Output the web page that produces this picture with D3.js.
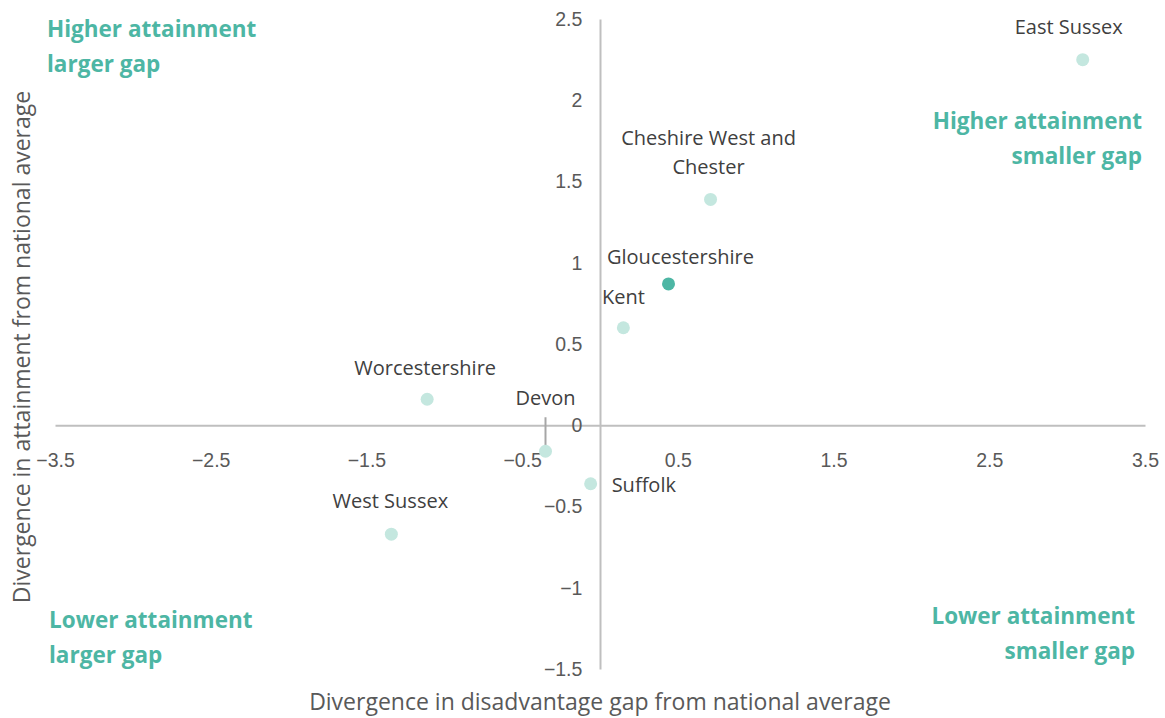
<!DOCTYPE html>
<html>
<head>
<meta charset="utf-8">
<script src="https://cdn.jsdelivr.net/npm/d3@7/dist/d3.min.js"></script>
<style>
  html, body { margin: 0; padding: 0; background: #fff; }
  svg { display: block; font-family: "Open Sans", Lato, sans-serif; }
</style>
</head>
<body>
<svg id="chart" width="1165" height="718"></svg>
<script>
// Local authorities and their divergence from national averages
const authorities = ["East Sussex", "Cheshire West and Chester", "Gloucestershire", "Kent",
                     "Worcestershire", "Devon", "Suffolk", "West Sussex"];
const gapDivergence = [3.10, 0.71, 0.44, 0.15, -1.11, -0.35, -0.06, -1.34];
const attainmentDivergence = [2.25, 1.39, 0.87, 0.60, 0.16, -0.16, -0.36, -0.67];
const highlighted = ["Gloucestershire"];

const xTicks = [-3.5, -2.5, -1.5, -0.5, 0.5, 1.5, 2.5, 3.5];
const yTicks = [2.5, 2, 1.5, 1, 0.5, 0, -0.5, -1, -1.5];

const xTitle = "Divergence in disadvantage gap from national average";
const yTitle = "Divergence in attainment from national average";

const quadrantLabels = [
  ["Higher attainment", "larger gap"],
  ["Higher attainment", "smaller gap"],
  ["Lower attainment", "larger gap"],
  ["Lower attainment", "smaller gap"]
];

// Label placement for each point (offsets from the marker, anchor)
const labelLayout = {
  "East Sussex":               { dx: -14, dy: -31, anchor: "middle" },
  "Cheshire West and Chester": { dx: -2,  dy: -59, anchor: "middle", lines: ["Cheshire West and", "Chester"] },
  "Gloucestershire":           { dx: 12,  dy: -25, anchor: "middle" },
  "Kent":                      { dx: 0,   dy: -29, anchor: "middle" },
  "Worcestershire":            { dx: -2,  dy: -29, anchor: "middle" },
  "Devon":                     { dx: 0,   dy: -51, anchor: "middle", leader: true },
  "Suffolk":                   { dx: 21,  dy: 3,   anchor: "start" },
  "West Sussex":               { dx: -1,  dy: -31, anchor: "middle" }
};

const svg = d3.select("#chart");

const x = d3.scaleLinear().domain([-3.5, 3.5]).range([55, 1145]);
const y = d3.scaleLinear().domain([-1.5, 2.5]).range([669, 19]);

const axisColor = "#bfbfbf";
const tickColor = "#595959";
const labelColor = "#404040";
const accent = "#4db6a4";
const pale = "#c4e7df";

// Horizontal axis through y = 0
const xAxis = d3.axisBottom(x).tickValues(xTicks).tickSize(0).tickFormat(d3.format(""));
const gx = svg.append("g").attr("transform", `translate(0,${y(0)})`).call(xAxis);
gx.select(".domain").attr("stroke", axisColor).attr("stroke-width", 2);
gx.selectAll("text").attr("fill", tickColor).attr("font-size", 19.5).attr("dy", "2.0em");

// Vertical axis through x = 0
const yAxis = d3.axisLeft(y).tickValues(yTicks).tickSize(0).tickFormat(d3.format(""));
const gy = svg.append("g").attr("transform", `translate(${x(0)},0)`).call(yAxis);
gy.select(".domain").attr("stroke", axisColor).attr("stroke-width", 2);
gy.selectAll("text").attr("fill", tickColor).attr("font-size", 19.5).attr("dx", "-0.75em");

// Axis titles
svg.append("text")
  .attr("x", 600).attr("y", 710)
  .attr("text-anchor", "middle")
  .attr("font-size", 23).attr("fill", tickColor)
  .text(xTitle);

svg.append("text")
  .attr("transform", `translate(30,347) rotate(-90)`)
  .attr("text-anchor", "middle")
  .attr("font-size", 23).attr("fill", tickColor)
  .text(yTitle);

// Quadrant captions
const quadPos = [
  { x: 47,   y: 37,  anchor: "start" },
  { x: 1142, y: 129, anchor: "end" },
  { x: 49,   y: 628, anchor: "start" },
  { x: 1135, y: 624, anchor: "end" }
];
quadrantLabels.forEach((lines, i) => {
  const p = quadPos[i];
  const t = svg.append("text")
    .attr("x", p.x).attr("y", p.y)
    .attr("text-anchor", p.anchor)
    .attr("font-size", 22.5).attr("font-weight", "bold").attr("fill", accent);
  lines.forEach((ln, j) => {
    t.append("tspan").attr("x", p.x).attr("dy", j === 0 ? 0 : 35).text(ln);
  });
});

// Points
const points = authorities.map((name, i) => ({
  name, gx: gapDivergence[i], ay: attainmentDivergence[i]
}));

// Devon leader line
points.filter(d => labelLayout[d.name].leader).forEach(d => {
  svg.append("line")
    .attr("x1", x(d.gx)).attr("x2", x(d.gx))
    .attr("y1", y(d.ay) - 34).attr("y2", y(d.ay) - 6)
    .attr("stroke", "#a6a6a6").attr("stroke-width", 2);
});

svg.append("g").selectAll("circle")
  .data(points).join("circle")
  .attr("cx", d => x(d.gx))
  .attr("cy", d => y(d.ay))
  .attr("r", 6.5)
  .attr("fill", d => highlighted.includes(d.name) ? accent : pale);

// Point labels
points.forEach(d => {
  const l = labelLayout[d.name];
  const lines = l.lines || [d.name];
  const px = x(d.gx) + l.dx, py = y(d.ay) + l.dy;
  const t = svg.append("text")
    .attr("x", px).attr("y", py)
    .attr("text-anchor", l.anchor)
    .attr("dominant-baseline", "middle")
    .attr("font-size", 20).attr("fill", labelColor);
  lines.forEach((ln, j) => {
    t.append("tspan").attr("x", px).attr("dy", j === 0 ? 0 : 29).text(ln);
  });
});
</script>
</body>
</html>
